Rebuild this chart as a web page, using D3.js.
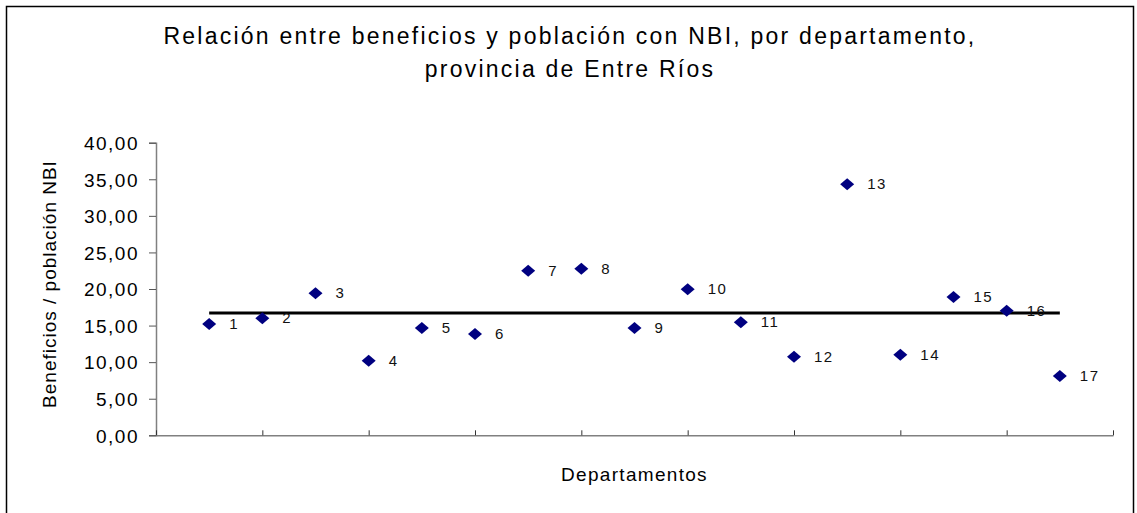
<!DOCTYPE html>
<html>
<head>
<meta charset="utf-8">
<script src="https://cdn.jsdelivr.net/npm/d3@7"></script>
<style>
  body { margin: 0; background: #fff; }
  svg { display: block; font-family: "Liberation Sans", Arial, sans-serif; }
</style>
</head>
<body>
<svg id="chart" width="1137" height="513"></svg>
<script>
// departamentos 1..17 and their beneficios / poblacion NBI ratio
var departamentos = [1, 2, 3, 4, 5, 6, 7, 8, 9, 10, 11, 12, 13, 14, 15, 16, 17];
var valores = [15.22, 15.99, 19.41, 10.20, 14.67, 13.85, 22.50, 22.78, 14.67,
  19.96, 15.45, 10.75, 34.32, 11.02, 18.91, 17.04, 8.11];
var promedio = 16.72;
var yTicks = [0, 5, 10, 15, 20, 25, 30, 35, 40];
var xTicks = [0, 2, 4, 6, 8, 10, 12, 14, 16, 18];
var titulo = ["Relación entre beneficios y población con NBI, por departamento,",
  "provincia de Entre Ríos"];
var tituloY = "Beneficios / población NBI";
var tituloX = "Departamentos";

var width = 1137, height = 513;
var margin = { top: 142.7, right: 24, bottom: 77.7, left: 156 };

var svg = d3.select("#chart");

var es = d3.formatLocale({ decimal: ",", thousands: ".", grouping: [3], currency: ["$", ""] });
var fmt = es.format(".2f");

var x = d3.scaleLinear()
  .domain([0, 18])
  .range([margin.left, width - margin.right]);
var y = d3.scaleLinear()
  .domain([0, 40])
  .range([height - margin.bottom, margin.top]);

// outer frame
svg.append("rect")
  .attr("x", 6.5).attr("y", 6.5)
  .attr("width", 1127).attr("height", 520)
  .attr("fill", "none")
  .attr("stroke", "#000")
  .attr("stroke-width", 1.5);

// title, spaced out to the width of the original
var t = svg.append("g").attr("font-size", "23px").attr("fill", "#000");
titulo.forEach(function (line, i) {
  t.append("text")
    .attr("x", 570)
    .attr("y", 44 + i * 33)
    .attr("text-anchor", "middle")
    .text(line);
});
(function () {
  var first = t.select("text").node();
  var w = first.getComputedTextLength();
  var ls = (813 - w) / titulo[0].length;
  t.selectAll("text").attr("letter-spacing", ls + "px");
})();

// y axis
var yAxis = svg.append("g")
  .attr("transform", "translate(" + margin.left + ",0)")
  .call(d3.axisLeft(y).tickValues(yTicks).tickFormat(fmt).tickSize(7).tickPadding(10));
yAxis.select(".domain").attr("stroke", "#808080").attr("stroke-width", 1.5);
yAxis.selectAll(".tick line").attr("stroke", "#555");
yAxis.selectAll(".tick text")
  .attr("font-size", "19px")
  .attr("letter-spacing", "1.5px")
  .attr("font-family", "\"Liberation Sans\", Arial, sans-serif")
  .attr("fill", "#000")
  .attr("dy", "0.36em");

// x axis, ticks pointing up, no labels
var xAxis = svg.append("g")
  .attr("transform", "translate(0," + y(0) + ")")
  .call(d3.axisBottom(x).tickValues(xTicks).tickSize(-5).tickSizeOuter(0).tickFormat(""));
xAxis.select(".domain").attr("stroke", "#808080").attr("stroke-width", 1.5);
xAxis.selectAll(".tick line").attr("stroke", "#333");

// axis titles
svg.append("text")
  .attr("transform", "translate(56," + 284 + ") rotate(-90)")
  .attr("text-anchor", "middle")
  .attr("font-size", "19px")
  .attr("letter-spacing", "1px")
  .text(tituloY);
svg.append("text")
  .attr("x", (x(0) + x(18)) / 2)
  .attr("y", 481)
  .attr("text-anchor", "middle")
  .attr("font-size", "19px")
  .attr("letter-spacing", "1.3px")
  .text(tituloX);

// average line
svg.append("line")
  .attr("x1", x(departamentos[0]))
  .attr("x2", x(departamentos[departamentos.length - 1]))
  .attr("y1", y(promedio))
  .attr("y2", y(promedio))
  .attr("stroke", "#000")
  .attr("stroke-width", 3.2);

// diamonds
var pts = departamentos.map(function (d, i) { return { dep: d, v: valores[i] }; });
svg.append("g")
  .attr("fill", "#000080")
  .selectAll("path")
  .data(pts)
  .join("path")
  .attr("d", "M0,-6L7,0L0,6L-7,0Z")
  .attr("transform", function (d) { return "translate(" + x(d.dep) + "," + y(d.v) + ")"; });

// point labels
svg.append("g")
  .attr("font-size", "15px")
  .attr("letter-spacing", "1.5px")
  .attr("fill", "#111")
  .selectAll("text")
  .data(pts)
  .join("text")
  .attr("x", function (d) { return x(d.dep) + 20; })
  .attr("y", function (d) { return y(d.v) + 5; })
  .text(function (d) { return d.dep; });
</script>
</body>
</html>
